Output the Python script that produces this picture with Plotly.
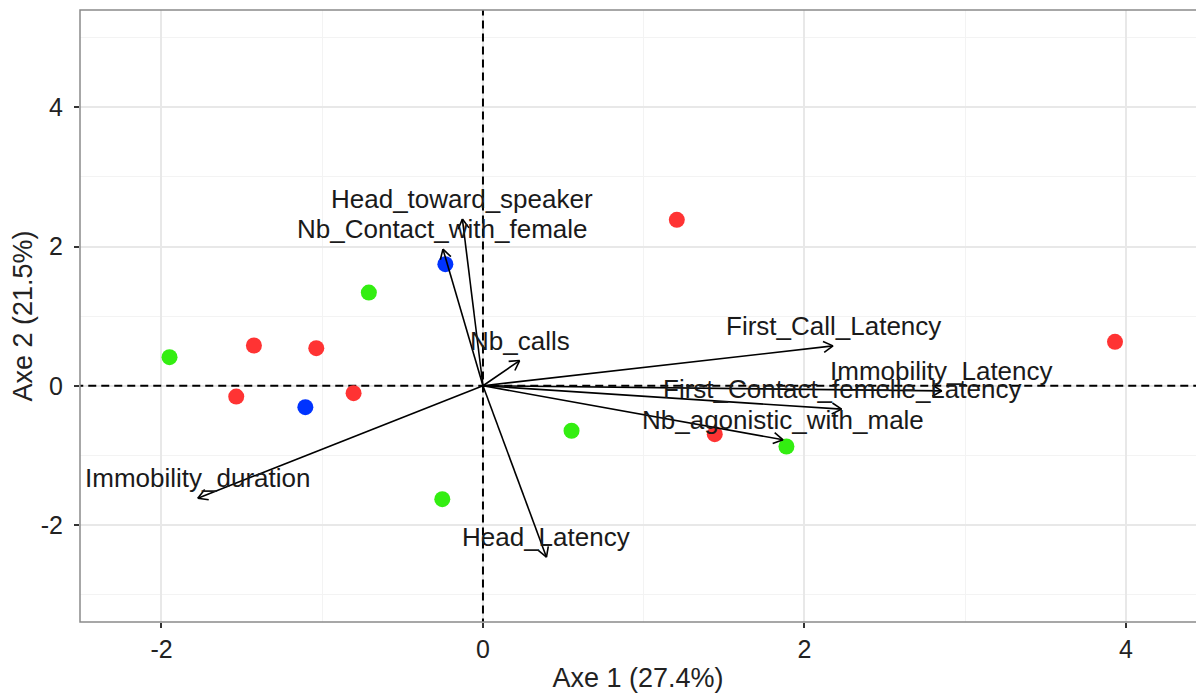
import math
import plotly.graph_objects as go

# ---------------- data ----------------
ind_x = [1.206, 3.932, -1.425, -1.037, -1.535, -0.805, 1.442,
         -1.950, -0.710, 0.551, 1.888, -0.253,
         -0.234, -1.105]
ind_y = [2.384, 0.631, 0.578, 0.540, -0.155, -0.107, -0.696,
         0.411, 1.339, -0.647, -0.873, -1.630,
         1.747, -0.308]
ind_group = ["G1"] * 7 + ["G2"] * 5 + ["G3"] * 2
group_colors = {"G1": "#FF3333", "G2": "#33EE11", "G3": "#0033FF"}

var_names = ["Head_toward_speaker", "Nb_Contact_with_female", "Nb_calls",
             "First_Call_Latency", "Immobility_Latency",
             "First_Contact_femelle_Latency", "Nb_agonistic_with_male",
             "Immobility_duration", "Head_Latency"]
var_x = [-0.128, -0.249, 0.228, 2.178, 2.855, 2.231, 1.867, -1.774, 0.395]
var_y = [2.394, 1.963, 0.362, 0.573, -0.073, -0.336, -0.777, -1.615, -2.463]

x_ticks = [-2, 0, 2, 4]
x_tick_labels = ["-2", "0", "2", "4"]
y_ticks = [-2, 0, 2, 4]
y_tick_labels = ["-2", "0", "2", "4"]
x_title = "Axe 1 (27.4%)"
y_title = "Axe 2 (21.5%)"

# ---------------- layout geometry ----------------
W, H = 1196, 695
ML, MR, MT, MB = 80, 0, 10, 73
x_range = [-2.507, 4.436]
y_range = [-3.394, 5.398]
sx = (W - ML - MR) / (x_range[1] - x_range[0])
sy = (H - MT - MB) / (y_range[1] - y_range[0])

FONT = "Liberation Sans, Arial, Helvetica, sans-serif"

fig = go.Figure()

# zero reference lines
fig.add_trace(go.Scatter(x=[x_range[0] - 1, x_range[1] + 1], y=[0, 0], mode="lines",
                         line=dict(color="black", width=2, dash="8px,5px"),
                         showlegend=False, hoverinfo="skip"))
fig.add_trace(go.Scatter(x=[0, 0], y=[y_range[0] - 1, y_range[1] + 1], mode="lines",
                         line=dict(color="black", width=2, dash="8px,5px"),
                         showlegend=False, hoverinfo="skip"))

# individuals
for g, col in group_colors.items():
    xs = [x for x, gg in zip(ind_x, ind_group) if gg == g]
    ys = [y for y, gg in zip(ind_y, ind_group) if gg == g]
    fig.add_trace(go.Scatter(x=xs, y=ys, mode="markers", name=g,
                             marker=dict(color=col, size=16, line=dict(width=0)),
                             showlegend=False, hoverinfo="skip"))

# arrows (shaft + open head wings)
ax, ay = [], []
L = 11.0
ang = math.radians(30)
for ex, ey in zip(var_x, var_y):
    ax += [0, ex, None]
    ay += [0, ey, None]
    px, py = ex * sx, ey * sy
    n = math.hypot(px, py)
    ux, uy = px / n, py / n
    for s in (1, -1):
        rx = ux * math.cos(s * ang) - uy * math.sin(s * ang)
        ry = ux * math.sin(s * ang) + uy * math.cos(s * ang)
        wx = ex - L * rx / sx
        wy = ey - L * ry / sy
        ax += [wx, ex, None]
        ay += [wy, ey, None]
fig.add_trace(go.Scatter(x=ax, y=ay, mode="lines",
                         line=dict(color="black", width=1.6),
                         showlegend=False, hoverinfo="skip"))

# labels
for name, ex, ey in zip(var_names, var_x, var_y):
    fig.add_annotation(x=ex, y=ey, text=name, showarrow=False,
                       yshift=20, xanchor="center", yanchor="middle",
                       font=dict(family=FONT, size=26, color="#1a1a1a"))

# panel border (right side falls outside the page, as in the reference)
fig.add_shape(type="rect", xref="paper", yref="paper", x0=0, x1=1.02, y0=0, y1=1,
              line=dict(color="#8a8a8a", width=1.5), layer="above")

axis_common = dict(
    showgrid=True, gridcolor="#E8E8E8", gridwidth=1.5,
    zeroline=False, showline=False,
    ticks="outside", ticklen=5, tickwidth=1.5, tickcolor="#333333",
    tickfont=dict(family=FONT, size=25, color="#222222"),
    minor=dict(dtick=1, showgrid=True, gridcolor="#F3F3F3", gridwidth=1),
    automargin=False,
)

fig.update_xaxes(range=x_range, tickvals=x_ticks, ticktext=x_tick_labels, **axis_common,
                 title=dict(text=x_title, font=dict(family=FONT, size=27, color="#222222"),
                            standoff=6))
fig.update_yaxes(range=y_range, tickvals=y_ticks, ticktext=y_tick_labels, **axis_common,
                 ticklabelstandoff=6,
                 title=dict(text=y_title, font=dict(family=FONT, size=27, color="#222222"),
                            standoff=0))

fig.update_layout(width=W, height=H, plot_bgcolor="white", paper_bgcolor="white",
                  margin=dict(l=ML, r=MR, t=MT, b=MB, autoexpand=False), showlegend=False)

fig.write_html("out.html", config={"displayModeBar": False},
               post_script="document.body.style.margin='0';document.body.style.overflow='hidden';")
